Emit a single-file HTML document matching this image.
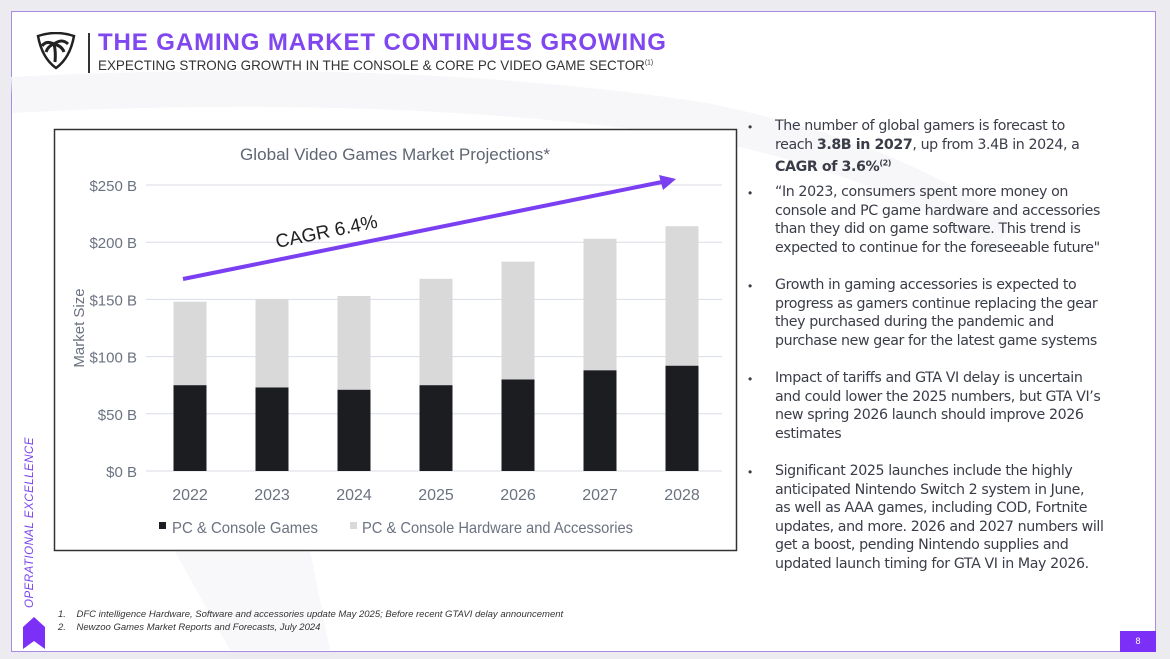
<!DOCTYPE html>
<html><head><meta charset="utf-8"><style>
*{margin:0;padding:0;box-sizing:border-box}
body{width:1170px;height:659px;background:#ececf0;position:relative;overflow:hidden;font-family:"Liberation Sans",sans-serif}
#slide{position:absolute;left:11px;top:11px;width:1145px;height:641px;background:#fff;border:1.5px solid #a98be6}
.abs{position:absolute}
.para{position:absolute;left:775px;white-space:nowrap;font-size:14.2px;line-height:18.6px;color:#3a3d48;font-family:"DejaVu Sans","Liberation Sans",sans-serif;letter-spacing:-0.4px}
.bul{position:absolute;left:748px;font-size:12px;color:#3a3d48}
</style></head><body>
<div id="slide"></div>
<svg class="abs" style="left:0;top:0" width="1170" height="659">
<path d="M12 95 Q400 75 700 120 Q900 160 1000 240" fill="none" stroke="#f7f7f9" stroke-width="36"/>
<path d="M90 400 L230 650 L330 650 L280 400 Z" fill="#f8f8fa"/>
</svg>
<svg class="abs" style="left:36px;top:32px" width="42" height="40">
<path d="M2 4 Q20 -2 38 4 Q34 26 20 36 Q6 26 2 4Z" fill="none" stroke="#222" stroke-width="2.5"/>
<path d="M19 30 Q20 20 18 12 M18 12 Q10 8 6 14 M18 12 Q26 6 32 12 M18 12 Q12 14 10 20 M18 12 Q26 14 28 20" stroke="#222" stroke-width="3" fill="none"/>
</svg>
<div class="abs" style="left:88px;top:33px;width:1.5px;height:40px;background:#333"></div>
<div class="abs" style="left:98px;top:29px;font-size:24px;font-weight:bold;color:#8046f0;letter-spacing:0.9px;white-space:nowrap">THE GAMING MARKET CONTINUES GROWING</div>
<div class="abs" style="left:98px;top:57px;font-size:14px;color:#333;transform:scaleX(0.96);transform-origin:left;white-space:nowrap">EXPECTING STRONG GROWTH IN THE CONSOLE &amp; CORE PC VIDEO GAME SECTOR<sup style="font-size:7px">(1)</sup></div>

<svg id="chart" class="abs" style="left:0;top:0" width="1170" height="659"></svg>

<div class="abs" style="left:24px;top:608px;transform:rotate(-90deg);transform-origin:left top;font-size:11.5px;font-style:italic;color:#7b45ee;letter-spacing:0.5px;white-space:nowrap">OPERATIONAL EXCELLENCE</div>
<svg class="abs" style="left:22px;top:617px" width="24" height="32"><path d="M1 10 L12 0 L23 10 L23 32 L12 24 L1 32Z" fill="#7b2ff7"/></svg>
<div class="abs" style="left:58px;top:608px;font-size:9.5px;font-style:italic;color:#333;line-height:13px">
<div>1.&nbsp;&nbsp;&nbsp;&nbsp;DFC intelligence Hardware, Software and accessories update May 2025; Before recent GTAVI delay announcement</div>
<div>2.&nbsp;&nbsp;&nbsp;&nbsp;Newzoo Games Market Reports and Forecasts, July 2024</div></div>
<div class="abs" style="left:1120px;top:631px;width:36px;height:21px;background:#7b2ff7;color:#fff;font-size:9px;text-align:center;line-height:21px">8</div>

<div class="bul" style="top:120px">•</div>
<div class="para" style="top:117px">The number of global gamers is forecast to<br>reach <b>3.8B in 2027</b>, up from 3.4B in 2024, a<br><b>CAGR of 3.6%<sup style="font-size:8px">(2)</sup></b></div>
<div class="bul" style="top:186px">•</div>
<div class="para" style="top:183px">“In 2023, consumers spent more money on<br>console and PC game hardware and accessories<br>than they did on game software. This trend is<br>expected to continue for the foreseeable future"</div>
<div class="bul" style="top:279px">•</div>
<div class="para" style="top:276px">Growth in gaming accessories is expected to<br>progress as gamers continue replacing the gear<br>they purchased during the pandemic and<br>purchase new gear for the latest game systems</div>
<div class="bul" style="top:372px">•</div>
<div class="para" style="top:369px">Impact of tariffs and GTA VI delay is uncertain<br>and could lower the 2025 numbers, but GTA VI’s<br>new spring 2026 launch should improve 2026<br>estimates</div>
<div class="bul" style="top:465px">•</div>
<div class="para" style="top:462px">Significant 2025 launches include the highly<br>anticipated Nintendo Switch 2 system in June,<br>as well as AAA games, including COD, Fortnite<br>updates, and more. 2026 and 2027 numbers will<br>get a boost, pending Nintendo supplies and<br>updated launch timing for GTA VI in May 2026.</div>

<script>
const years=["2022","2023","2024","2025","2026","2027","2028"];
const games=[75,73,71,75,80,88,92];
const totals=[148,150,153,168,183,203,214];
const ticks=[0,50,100,150,200,250];
const tickLabels=["$0 B","$50 B","$100 B","$150 B","$200 B","$250 B"];
const NS="http://www.w3.org/2000/svg";
const svg=document.getElementById('chart');
function y(v){return 471-v*(286/250);}
function x(i){return 190+i*82;}
function mk(t,a,txt){const e=document.createElementNS(NS,t);for(const k in a)e.setAttribute(k,a[k]);if(txt!==undefined)e.textContent=txt;svg.appendChild(e);return e;}
let e=mk('rect',{x:54.5,y:129.5,width:682,height:421,fill:'#fff',stroke:'#333',"stroke-width":1.5});

e=mk('text',{x:395,y:160,"text-anchor":"middle","font-size":17,fill:'#5f6673',"font-family":"Liberation Sans",textLength:310,lengthAdjust:"spacingAndGlyphs"},"Global Video Games Market Projections*");

ticks.forEach((t,i)=>{
 e=mk('line',{x1:146,x2:722,y1:y(t),y2:y(t),stroke:'#d8dde6',"stroke-width":1});
 
 e=mk('text',{x:137,y:y(t)+6,"text-anchor":"end","font-size":15,fill:'#6b7280',"font-family":"Liberation Sans"},tickLabels[i]);
 
});
e=mk('text',{x:84,y:328,"text-anchor":"middle","font-size":15,fill:'#6b7280',transform:'rotate(-90 84 328)',"font-family":"Liberation Sans"},"Market Size");

years.forEach((yr,i)=>{
 e=mk('rect',{x:x(i)-16.5,y:y(totals[i]),width:33,height:y(games[i])-y(totals[i]),fill:'#d9d9d9'});
 
 e=mk('rect',{x:x(i)-16.5,y:y(games[i]),width:33,height:y(0)-y(games[i]),fill:'#1c1d21'});
 
 e=mk('text',{x:x(i),y:500,"text-anchor":"middle","font-size":16,fill:'#6b7280',"font-family":"Liberation Sans"},yr);
 
});
e=mk('rect',{x:159,y:522,width:7,height:7,fill:'#1c1d21'});
e=mk('text',{x:172,y:533,"font-size":16,fill:'#6b7280',"font-family":"Liberation Sans",textLength:146,lengthAdjust:"spacingAndGlyphs"},"PC & Console Games");
e=mk('rect',{x:350,y:522,width:7,height:7,fill:'#d9d9d9'});
e=mk('text',{x:362,y:533,"font-size":16,fill:'#6b7280',"font-family":"Liberation Sans",textLength:271,lengthAdjust:"spacingAndGlyphs"},"PC & Console Hardware and Accessories");
e=mk('line',{x1:183,y1:279,x2:662,y2:182,stroke:'#7b3ff2',"stroke-width":4});
e=mk('polygon',{points:"676,179 659,175 663,190",fill:'#7b3ff2'});
e=mk('text',{x:277,y:248,"font-size":19,fill:'#222',transform:'rotate(-11.5 277 248)',"font-family":"Liberation Sans"},"CAGR 6.4%");
</script>
</body></html>
